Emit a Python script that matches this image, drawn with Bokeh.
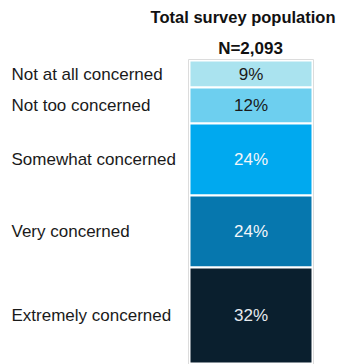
import numpy as np
from bokeh.plotting import figure
from bokeh.models import ColumnDataSource, Range1d, Label
from bokeh.core.properties import value
from bokeh.embed import file_html
from bokeh.resources import INLINE

# ---- data ----
categories = ["Not at all concerned", "Not too concerned", "Somewhat concerned",
              "Very concerned", "Extremely concerned"]
values = [9, 12, 24, 24, 32]
title_text = "Total survey population"
n_text = "N=2,093"

# ---- styles ----
colors = ["#aae3ef", "#6dcfef", "#00a9ef", "#0677ae", "#0a1f2e"]
text_colors = ["#1a1a1a", "#1a1a1a", "#f2f6fa", "#f2f6fa", "#e6ebf0"]
FONT = "Liberation Sans"

W, H = 339, 364
ppu = 3.0
y_end = -60 / ppu
y_start = y_end + H / ppu

def px_to_y(px):
    return y_end + px / ppu

vals = np.array(values, dtype=float)
tops = np.concatenate([[0], np.cumsum(vals)[:-1]])
bottoms = np.cumsum(vals)
mids = (tops + bottoms) / 2

src = ColumnDataSource(dict(
    cat=categories, top=tops, bottom=bottoms, mid=mids,
    color=colors, tcolor=text_colors,
    pct=[f"{v}%" for v in values],
))

p = figure(width=W, height=H, output_backend="svg", toolbar_location=None,
           x_range=Range1d(0, W), y_range=Range1d(start=y_start, end=y_end),
           x_axis_type=None, y_axis_type=None, min_border=0,
           outline_line_color=None, background_fill_color="white",
           border_fill_color="white")
p.grid.visible = False

bar_left, bar_right = 189, 312
p.quad(left=bar_left, right=bar_right, top="top", bottom="bottom",
       fill_color="color", line_color="white", line_width=2, source=src)
# thin outer outline
p.quad(left=bar_left - 1, right=bar_right + 1, top=-1 / ppu, bottom=float(bottoms[-1]) + 2,
       fill_color=None, line_color="#dcdcdc", line_width=1)

p.text(x=(bar_left + bar_right) / 2, y="mid", text="pct", source=src,
       text_color="tcolor", text_align="center", text_baseline="middle",
       text_font=value(FONT), text_font_size="17px")
p.text(x=11, y="mid", text="cat", source=src,
       text_color="#1a1a1a", text_align="left", text_baseline="middle",
       text_font=value(FONT), text_font_size="17px")

p.add_layout(Label(x=335, y=px_to_y(16), text=title_text, text_align="right",
                   text_baseline="middle", text_font=FONT, text_font_size="16.5px",
                   text_font_style="bold", text_color="#111111"))
p.add_layout(Label(x=250, y=px_to_y(47.6), text=n_text, text_align="center",
                   text_baseline="middle", text_font=FONT, text_font_size="17px",
                   text_font_style="bold", text_color="#111111"))

open("out.html", "w").write(file_html(p, INLINE))
